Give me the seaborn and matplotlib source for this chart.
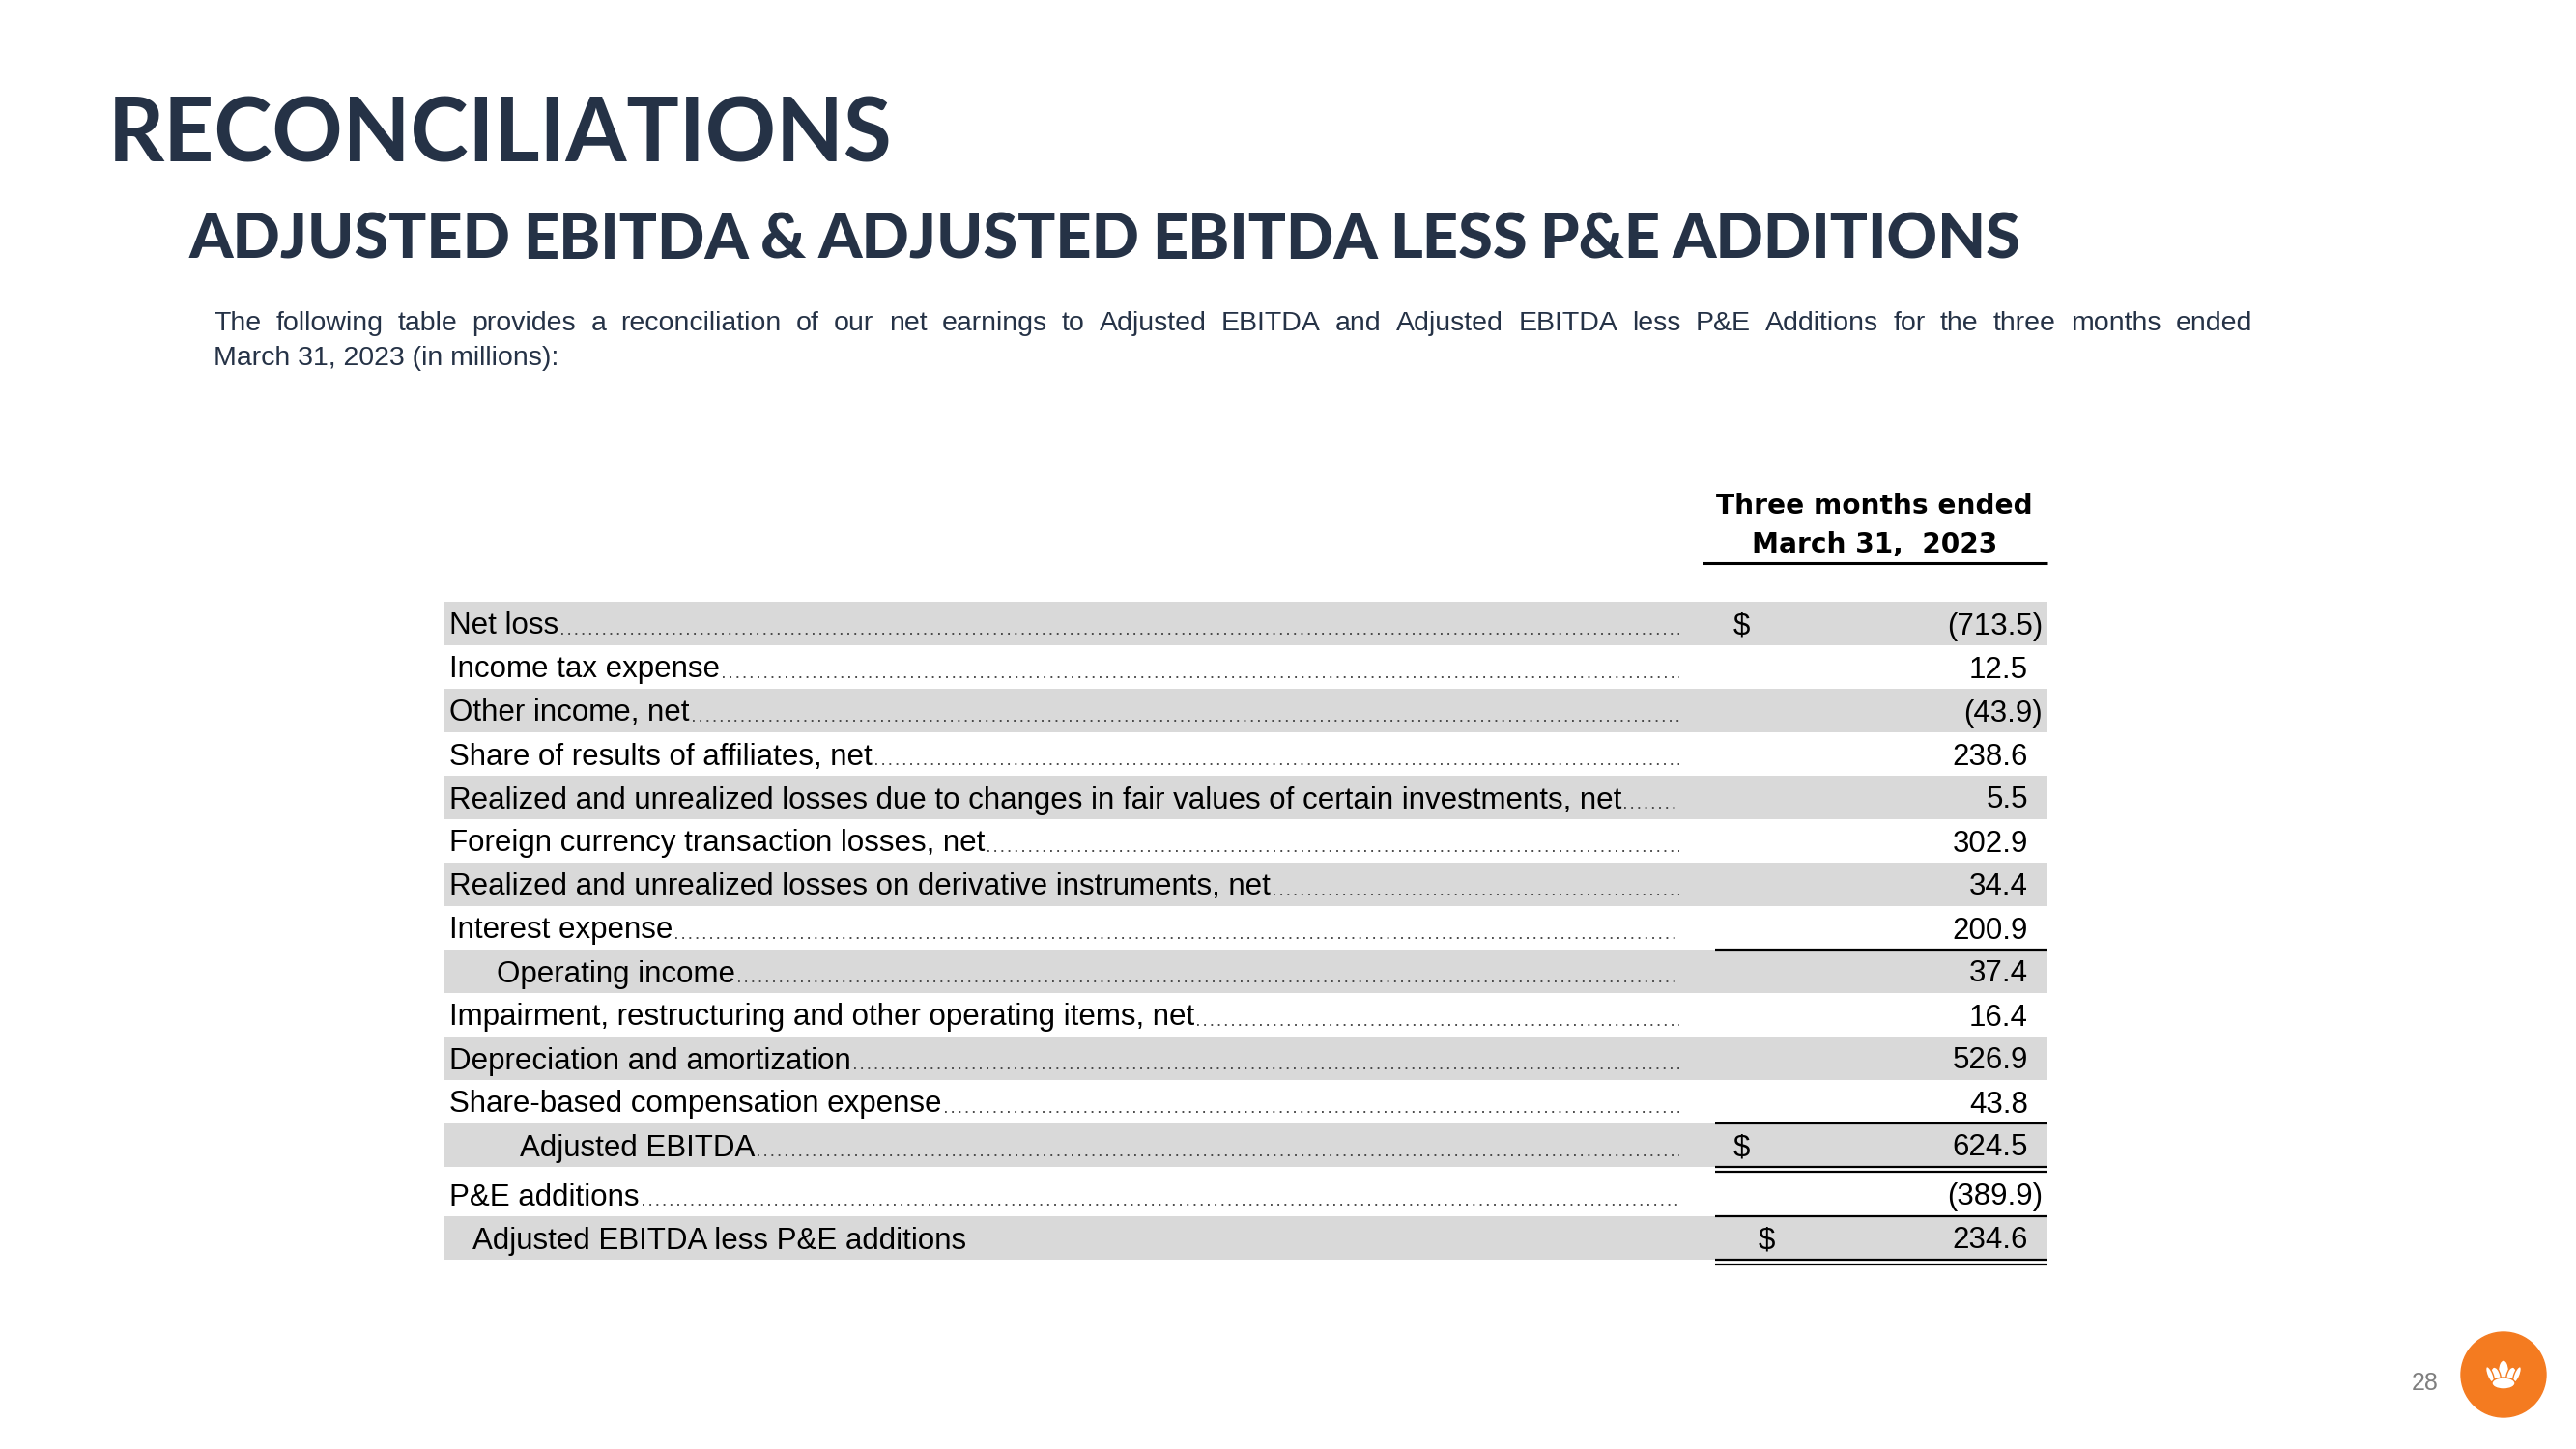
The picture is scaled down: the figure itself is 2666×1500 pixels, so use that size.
# Importar librerias
import numpy as np
import seaborn as sns
import matplotlib.pyplot as plt
from matplotlib.patches import Circle, Ellipse

# Textos de la diapositiva
titulo = "RECONCILIATIONS"
subtitulo = "ADJUSTED EBITDA & ADJUSTED EBITDA LESS P&E ADDITIONS"
intro_1 = ("The following table provides a reconciliation of our net earnings to Adjusted EBITDA "
           "and Adjusted EBITDA less P&E Additions for the three months ended")
intro_2 = "March 31, 2023 (in millions):"
encabezado = ["Three months ended", "March 31,  2023"]
pagina = "28"

# Datos de la tabla (millones)
conceptos = [
    "Net loss",
    "Income tax expense",
    "Other income, net",
    "Share of results of affiliates, net",
    "Realized and unrealized losses due to changes in fair values of certain investments, net",
    "Foreign currency transaction losses, net",
    "Realized and unrealized losses on derivative instruments, net",
    "Interest expense",
    "Operating income",
    "Impairment, restructuring and other operating items, net",
    "Depreciation and amortization",
    "Share-based compensation expense",
    "Adjusted EBITDA",
    "P&E additions",
    "Adjusted EBITDA less P&E additions",
]
valores = [-713.5, 12.5, -43.9, 238.6, 5.5, 302.9, 34.4, 200.9, 37.4, 16.4, 526.9, 43.8, 624.5, -389.9, 234.6]
con_dolar = ["Net loss", "Adjusted EBITDA", "Adjusted EBITDA less P&E additions"]
sin_puntos = ["Adjusted EBITDA less P&E additions"]

# Estilo
sns.set_theme(style="white")
plt.rcParams['font.family'] = ['Liberation Sans', 'DejaVu Sans']
azul = '#253246'
gris_fila = '#d9d9d9'
tam_tabla = 22.5

W, H = 2666, 1500
fig = plt.figure(figsize=(W / 100, H / 100), dpi=100)
ax = fig.add_axes([0, 0, 1, 1])
ax.set_xlim(0, W)
ax.set_ylim(H, 0)
ax.axis('off')
r = fig.canvas.get_renderer()


def ajustar(t, ancho):
    # escala la fuente para que el texto ocupe el ancho dado
    w = t.get_window_extent(r).width
    t.set_fontsize(t.get_fontsize() * ancho / w)


def justificar(texto, x0, x1, y, hueco_min=0, **kw):
    # reparte las palabras entre x0 y x1 (texto justificado)
    palabras = texto.split()
    objs = [ax.text(0, y, p, **kw) for p in palabras]
    anchos = [o.get_window_extent(r).width for o in objs]
    total = x1 - x0 - hueco_min * (len(palabras) - 1)
    if sum(anchos) > total:
        f = total / sum(anchos)
        for o in objs:
            o.set_fontsize(o.get_fontsize() * f)
        anchos = [o.get_window_extent(r).width for o in objs]
    hueco = (x1 - x0 - sum(anchos)) / (len(palabras) - 1)
    x = x0
    for o, a in zip(objs, anchos):
        o.set_x(x)
        x += a + hueco


# Titulos
t = ax.text(112, 168, titulo, fontsize=66, fontweight='bold', family=['Lato', 'DejaVu Sans'],
            color=azul, va='baseline')
ajustar(t, 812)
justificar(subtitulo, 196, 2091, 268, hueco_min=12, fontsize=50, fontweight='black',
           family=['Lato', 'DejaVu Sans'], color=azul, va='baseline')

justificar(intro_1, 221, 2331, 342, fontsize=20.5, color=azul, va='baseline')
ax.text(221, 378, intro_2, fontsize=20.5, color=azul, va='baseline')

# Encabezado de la columna
t1 = ax.text(1940, 532, encabezado[0], fontsize=20, fontweight='bold', family=['DejaVu Sans'],
             ha='center', va='baseline', color='black')
ajustar(t1, 326)
ax.text(1940, 572, encabezado[1], fontsize=t1.get_fontsize(), fontweight='bold', family=['DejaVu Sans'],
        ha='center', va='baseline', color='black')
ax.plot([1762, 2119], [583, 583], color='black', lw=2.2, solid_capstyle='butt')

# Filas
n = len(conceptos)
paso = 45
idx = np.arange(n)
tops = 623 + paso * idx + np.where(idx >= 13, 6, 0)
centros = tops + paso / 2
ax.barh(centros[::2], width=2119 - 459, left=459, height=paso, color=gris_fila, linewidth=0)

sangria = {"Operating income": 49, "Adjusted EBITDA": 73, "Adjusted EBITDA less P&E additions": 24}
fin_puntos = 1738
for i, (c, v) in enumerate(zip(conceptos, valores)):
    base = centros[i] + 11
    t = ax.text(465 + sangria.get(c, 0), base, c, fontsize=tam_tabla, color='black', va='baseline')
    if c not in sin_puntos:
        x_fin = t.get_window_extent(r).x1
        if x_fin < fin_puntos - 5:
            ax.plot([x_fin + 3, fin_puntos], [base - 1, base - 1], ls=(0, (1, 3)), lw=1.3, color='#3a3a3a')
    if v < 0:
        ax.text(2114, base, f"({abs(v):.1f})", fontsize=tam_tabla, color='black', ha='right', va='baseline')
    else:
        ax.text(2099, base, f"{v:.1f}", fontsize=tam_tabla, color='black', ha='right', va='baseline')
    if c in con_dolar:
        xd = 1828 if c == "Adjusted EBITDA less P&E additions" else 1802
        ax.text(xd, base, "$", fontsize=tam_tabla, color='black', ha='center', va='baseline')

# Lineas de subtotales
x0, x1 = 1775, 2119
for i in [8, 12, 14]:
    ax.plot([x0, x1], [tops[i], tops[i]], color='black', lw=1.6, solid_capstyle='butt')
for i in [12, 14]:
    yb = tops[i] + paso
    ax.plot([x0, x1], [yb, yb], color='black', lw=1.6, solid_capstyle='butt')
    ax.plot([x0, x1], [yb + 5, yb + 5], color='black', lw=1.6, solid_capstyle='butt')

# Numero de pagina y logo
ax.text(2510, 1432, pagina, fontsize=18, color='#7f7f7f', ha='center', va='center')
cx, cy = 2591, 1423
ax.add_patch(Circle((cx, cy), 44, color='#f47b20'))
for (ex, ey, ew, eh, ang) in [(0, -4, 11, 22, 0), (-8, 2, 10, 20, -12), (8, 2, 10, 20, 12),
                              (-14, 0, 6, 18, -22), (14, 0, 6, 18, 22), (0, 9, 24, 12, 0)]:
    ax.add_patch(Ellipse((cx + ex, cy + ey), ew, eh, angle=ang, facecolor='white',
                         edgecolor='#f47b20', lw=1))

plt.savefig('out.png', dpi=100)
plt.close()
